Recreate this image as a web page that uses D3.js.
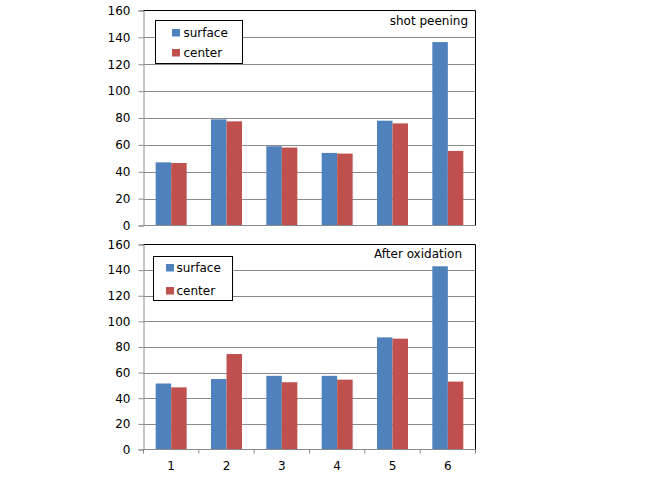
<!DOCTYPE html>
<html><head><meta charset="utf-8">
<script src="https://cdn.jsdelivr.net/npm/d3@7"></script>
<style>
body{margin:0;background:#fff}
svg{display:block}
text{font-family:"DejaVu Sans",sans-serif;font-size:12px;fill:#000}
</style>
</head><body>
<svg id="c" width="662" height="493"></svg>
<script>
const categories = ["1","2","3","4","5","6"];
const seriesNames = ["surface","center"];
const shotSurface = [47, 79, 59, 54, 78, 136.5];
const shotCenter  = [46.5, 77.5, 58, 53.5, 76, 55.5];
const oxSurface   = [51.5, 55, 57.5, 57.5, 87.5, 143];
const oxCenter    = [48.5, 74.5, 52.5, 54.5, 86.5, 53];
const yTicks = [0, 20, 40, 60, 80, 100, 120, 140, 160];
const titles = ["shot peening", "After oxidation"];
const colors = ["#4F81BD", "#C0504D"];

const svg = d3.select("#c");
const left = 143.5, right = 475.5;

const panels = [
  {title: titles[0], data: [shotSurface, shotCenter], top: 10.5, bottom: 225.5, xLabels: false,
   legend: {x: 155.5, y: 20.5, w: 87, h: 43, sx: 172, tx: 183.5, rows: [36.5, 56.5]}, titleX: 468, titleY: 25},
  {title: titles[1], data: [oxSurface, oxCenter], top: 244.5, bottom: 449.5, xLabels: true,
   legend: {x: 153.5, y: 256.5, w: 79, h: 44, sx: 166, tx: 176.5, rows: [271.5, 294.5]}, titleX: 462, titleY: 258}
];

const x0 = d3.scaleBand().domain(categories).range([left, right]).paddingInner(0.44).paddingOuter(0.22);
const x1 = d3.scaleBand().domain(seriesNames).range([0, x0.bandwidth()]);
const xStep = d3.scaleBand().domain(categories).range([left, right]);

panels.forEach(p => {
  const g = svg.append("g");
  const y = d3.scaleLinear().domain([0, 160]).range([p.bottom, p.top]);

  // gridlines
  g.append("g").selectAll("line").data(yTicks.filter(t => t > 0 && t < 160)).join("line")
    .attr("x1", left).attr("x2", right)
    .attr("y1", d => Math.round(y(d)) + 0.5).attr("y2", d => Math.round(y(d)) + 0.5)
    .attr("stroke", "#8a8a8a").attr("stroke-width", 1);

  // bars
  seriesNames.forEach((s, si) => {
    g.append("g").selectAll("rect").data(p.data[si]).join("rect")
      .attr("x", (d, i) => x0(categories[i]) + x1(s))
      .attr("width", x1.bandwidth())
      .attr("y", d => y(d))
      .attr("height", d => y(0) - y(d))
      .attr("fill", colors[si]);
  });

  // y axis
  const ya = g.append("g").attr("transform", `translate(${left},0)`)
    .call(d3.axisLeft(y).tickValues(yTicks).tickSize(5).tickPadding(8));
  ya.select(".domain").attr("stroke", "#8a8a8a");
  ya.selectAll(".tick line").attr("stroke", "#8a8a8a");
  ya.selectAll("text").style("font-size", "12px").attr("fill", "#000");

  // x axis
  const xa = g.append("g").attr("transform", `translate(0,${p.bottom})`);
  if (p.xLabels) {
    xa.call(d3.axisBottom(x0).tickSize(0).tickPadding(12));
    xa.selectAll(".tick line").remove();
    xa.selectAll("text").style("font-size", "12px").attr("fill", "#000");
    xa.select(".domain").remove();
    xa.selectAll("line.sep").data(categories.concat(["end"])).join("line")
      .attr("class", "sep")
      .attr("x1", (d, i) => i < categories.length ? xStep(d) : right)
      .attr("x2", (d, i) => i < categories.length ? xStep(d) : right)
      .attr("y1", 0).attr("y2", 4).attr("stroke", "#8a8a8a");
  }
  xa.append("line").attr("x1", left).attr("x2", right).attr("y1", 0).attr("y2", 0).attr("stroke", "#8a8a8a");

  // frame top & right
  g.append("path")
    .attr("d", `M${left},${p.top}H${right}V${p.bottom}`)
    .attr("fill", "none").attr("stroke", "#000");

  // title
  g.append("text").attr("x", p.titleX).attr("y", p.titleY).attr("text-anchor", "end").text(p.title);

  // legend
  const L = p.legend;
  const lg = g.append("g");
  lg.append("rect").attr("x", L.x).attr("y", L.y).attr("width", L.w).attr("height", L.h)
    .attr("fill", "#fff").attr("stroke", "#000");
  seriesNames.forEach((s, si) => {
    lg.append("rect").attr("x", L.sx).attr("y", L.rows[si] - 7.5).attr("width", 8).attr("height", 7.5)
      .attr("fill", colors[si]);
    lg.append("text").attr("x", L.tx).attr("y", L.rows[si]).text(s);
  });
});
</script>
</body></html>
